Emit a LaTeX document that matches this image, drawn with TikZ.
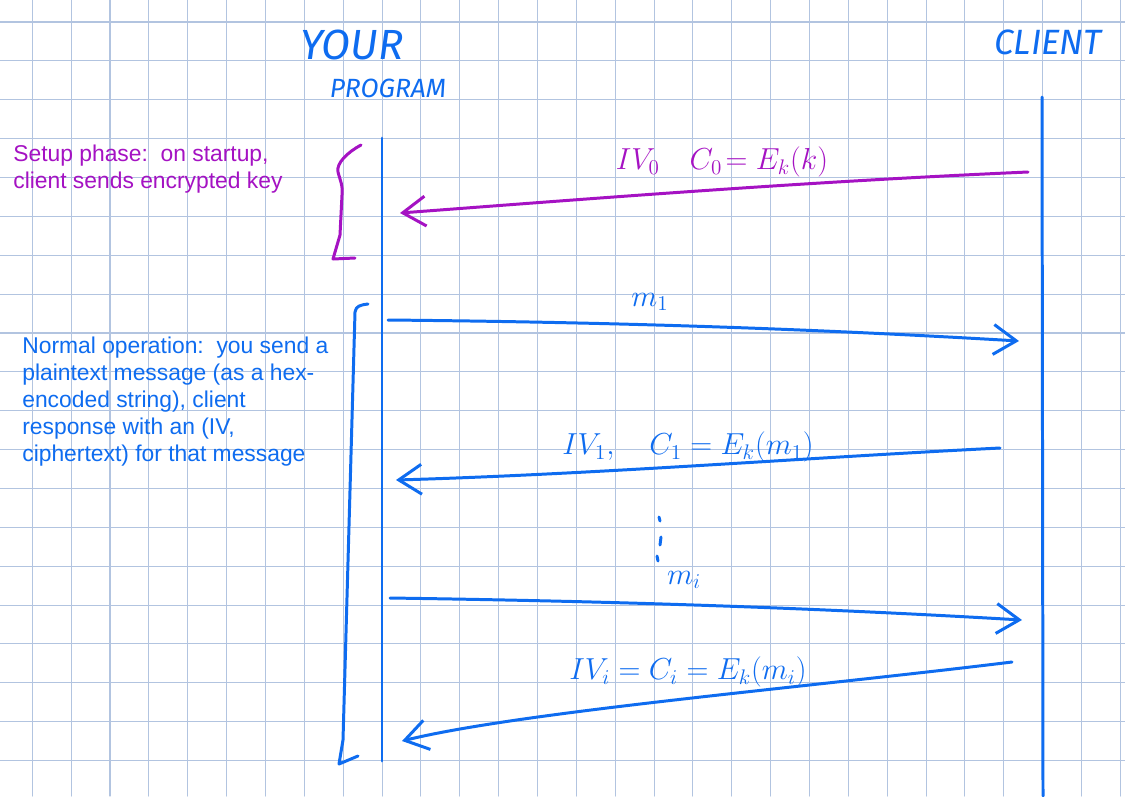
\documentclass[tikz,border=0pt]{standalone}
\usepackage{fontspec}
\usetikzlibrary{arrows.meta}
\newfontfamily\typed{Liberation Sans}
\newfontfamily\hand{Fira Sans}
\definecolor{gridblue}{RGB}{178,196,224}
\definecolor{ink}{RGB}{14,108,240}
\definecolor{plum}{RGB}{165,18,195}
\begin{document}
\begin{tikzpicture}[x=0.02cm,y=-0.02cm,line cap=round,line join=round,
  gridline/.style={gridblue,line width=0.6pt},
  pen/.style={ink,line width=1.7pt},
  ppen/.style={plum,line width=1.7pt},
  msg/.style={-{Straight Barb[length=13pt,width=17pt]}},
  note/.style={anchor=north west,inner sep=0pt,align=left,font=\typed\fontsize{13}{15.3}\selectfont},
  lab/.style={inner sep=0pt,font=\fontsize{17}{20}\selectfont}]
 % paper
 \fill[white] (0,0) rectangle (1125,796);
 \useasboundingbox (0,0) rectangle (1125,796);
 \foreach \i in {0,...,28} \draw[gridline] ({32.3+\i*38.86},0) -- ++(0,796);
 \foreach \j in {0,...,19} \draw[gridline] (0,{22+\j*38.87}) -- ++(1125,0);
 % headings
 \node[ink,font=\hand\itshape\fontsize{24}{28}\selectfont] (you) at (352,45) {YOUR};
 \node[ink,font=\hand\itshape\fontsize{15}{18}\selectfont] (prog) at (388,88) {PROGRAM};
 \node[ink,font=\hand\itshape\fontsize{20}{24}\selectfont] (client) at (1048,42) {CLIENT};
 % lifelines
 \coordinate (ptop) at (382,138); \coordinate (pbot) at (382,761);
 \coordinate (ctop) at (1042,97); \coordinate (cbot) at (1043,796);
 \draw[pen] (ptop) -- (pbot);
 \draw[pen] (ctop) -- (cbot);
 % setup phase
 \node[note,plum] (setup) at (13,145) {Setup phase:\ \ on startup,\\client sends encrypted key};
 \draw[ppen] (361,145) .. controls (348,152) and (336,163) .. (338,172)
   .. controls (340,180) and (343,185) .. (342,195) -- (340,235) -- (333,259) -- (355,258);
 \coordinate (a0s) at (1028,172); \coordinate (a0e) at (400,213);
 \draw[ppen,msg] (a0s) .. controls (800,182) and (600,198) .. (a0e);
 \node[lab,plum] (lab0) at (722,162) {$IV_0\quad C_0\!= E_k(k)$};
 % normal operation
 \node[note,ink] (normal) at (22,337) {Normal operation:\ \ you send a\\plaintext message (as a hex-\\encoded string), client\\response with an (IV,\\ciphertext) for that message};
 \draw[pen] (368,304) .. controls (360,305) and (356,306) .. (355,312) -- (343,740) -- (339,764) -- (358,756);
 \coordinate (a1s) at (388,320); \coordinate (a1e) at (1019,341);
 \draw[pen,msg] (a1s) .. controls (600,322) and (800,328) .. (a1e);
 \node[lab,ink] (lab1) at (650,302) {$m_1$};
 \coordinate (a2s) at (1000,448); \coordinate (a2e) at (396,480);
 \draw[pen,msg] (a2s) .. controls (800,458) and (600,474) .. (a2e);
 \node[lab,ink] (lab2) at (688,447) {$IV_1,\quad C_1 = E_k(m_1)$};
 % dots
 \draw[pen] (659,517) -- (660,521);
 \draw[pen] (661,537) -- (660,545);
 \draw[pen] (657,556) -- (658,561);
 \coordinate (a3s) at (390,598); \coordinate (a3e) at (1022,620);
 \draw[pen,msg] (a3s) .. controls (600,601) and (800,607) .. (a3e);
 \node[lab,ink] (lab3) at (684,580) {$m_i$};
 \coordinate (a4s) at (1012,662); \coordinate (a4e) at (402,741);
 \draw[pen,msg] (a4s) .. controls (800,688) and (520,712) .. (a4e);
 \node[lab,ink] (lab4) at (688,672) {$IV_i = C_i = E_k(m_i)$};
\end{tikzpicture}
\end{document}
